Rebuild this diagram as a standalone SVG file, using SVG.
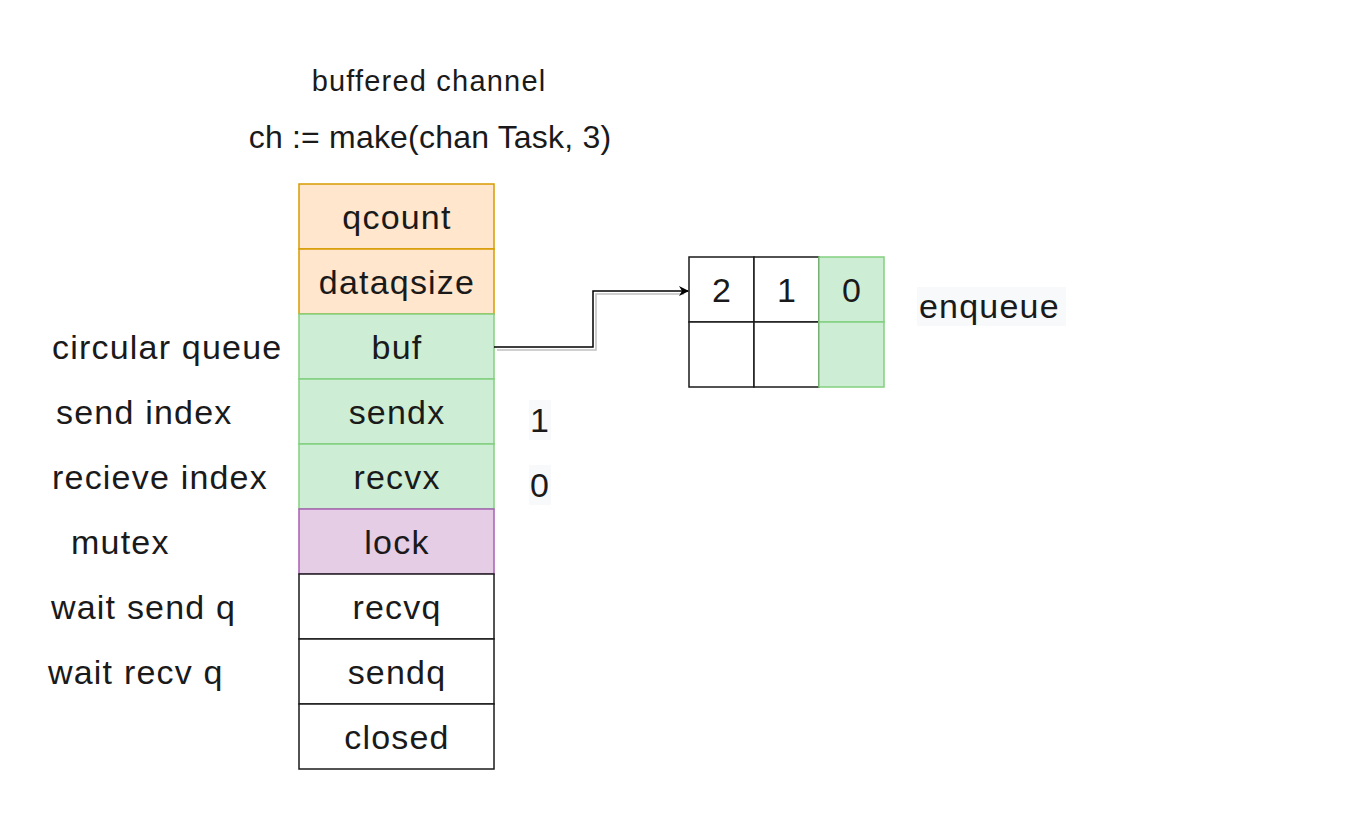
<svg xmlns="http://www.w3.org/2000/svg" width="1346" height="820" viewBox="0 0 1346 820">
<defs>
<style>
text{font-family:"Liberation Sans",Arial,sans-serif;fill:#1a1a1a;}
.cell{font-size:34px;letter-spacing:1.2px;text-anchor:middle;dominant-baseline:central;}
.side{font-size:34px;letter-spacing:1.2px;dominant-baseline:central;}
.t1{font-size:29px;letter-spacing:1.2px;text-anchor:middle;dominant-baseline:central;}
.t2{font-size:32px;letter-spacing:0.2px;text-anchor:middle;dominant-baseline:central;}
.or{fill:#ffe6cc;stroke:#d79b00;stroke-width:1.5;}
.gr{fill:#cdeed4;stroke:#82cf7f;stroke-width:1.5;}
.pu{fill:#e6cde6;stroke:#a65fb5;stroke-width:1.5;}
.wh{fill:#ffffff;stroke:#1a1a1a;stroke-width:1.5;}
.bg{fill:#f8f9fa;}
</style>
<marker id="arr" viewBox="0 0 10 10" refX="9" refY="5" markerWidth="10" markerHeight="10" markerUnits="userSpaceOnUse" orient="auto">
<path d="M0,0 L10,5 L0,10 L3,5 Z" fill="#000"/>
</marker>
</defs>
<rect width="1346" height="820" fill="#ffffff"/>

<g id="title">
<text class="t1" x="429" y="81">buffered channel</text>
<text class="t2" x="430" y="137">ch := make(chan Task, 3)</text>
</g>

<g id="node-qcount"><rect class="or" x="299" y="184" width="195" height="65"/><text class="cell" x="397" y="216.5">qcount</text></g>
<g id="node-dataqsize"><rect class="or" x="299" y="249" width="195" height="65"/><text class="cell" x="397" y="281.5">dataqsize</text></g>
<g id="node-buf"><rect class="gr" x="299" y="314" width="195" height="65"/><text class="cell" x="397" y="346.5">buf</text></g>
<g id="node-sendx"><rect class="gr" x="299" y="379" width="195" height="65"/><text class="cell" x="397" y="411.5">sendx</text></g>
<g id="node-recvx"><rect class="gr" x="299" y="444" width="195" height="65"/><text class="cell" x="397" y="476.5">recvx</text></g>
<g id="node-lock"><rect class="pu" x="299" y="509" width="195" height="65"/><text class="cell" x="397" y="541.5">lock</text></g>
<g id="node-recvq"><rect class="wh" x="299" y="574" width="195" height="65"/><text class="cell" x="397" y="606.5">recvq</text></g>
<g id="node-sendq"><rect class="wh" x="299" y="639" width="195" height="65"/><text class="cell" x="397" y="671.5">sendq</text></g>
<g id="node-closed"><rect class="wh" x="299" y="704" width="195" height="65"/><text class="cell" x="397" y="736.5">closed</text></g>

<g id="side-labels">
<text class="side" x="52" y="347">circular queue</text>
<text class="side" x="56" y="412">send index</text>
<text class="side" x="52" y="477">recieve index</text>
<text class="side" x="71" y="542">mutex</text>
<text class="side" x="51" y="607">wait send q</text>
<text class="side" x="48" y="672">wait recv q</text>
</g>

<g id="index-values">
<rect class="bg" x="529" y="400" width="22" height="40"/>
<text class="side" x="530" y="420">1</text>
<rect class="bg" x="529" y="465" width="22" height="40"/>
<text class="side" x="530" y="485">0</text>
</g>

<g id="node-queue">
<rect class="wh" x="689" y="257" width="65" height="65"/><text class="cell" x="722" y="289.5">2</text>
<rect class="wh" x="754" y="257" width="65" height="65"/><text class="cell" x="787" y="289.5">1</text>
<rect class="wh" x="689" y="322" width="65" height="65"/>
<rect class="wh" x="754" y="322" width="65" height="65"/>
<rect class="gr" x="819" y="257" width="65" height="65"/><text class="cell" x="852" y="289.5">0</text>
<rect class="gr" x="819" y="322" width="65" height="65"/>
</g>

<g id="node-enqueue">
<rect class="bg" x="917" y="287" width="149" height="39"/>
<text class="side" x="919" y="306">enqueue</text>
</g>

<g id="connectors">
<path d="M497,350 H596 V294 H684" fill="none" stroke="#c0c0c0" stroke-width="1.5"/>
<path d="M494,347 H593 V291 H688" fill="none" stroke="#000" stroke-width="1.5" marker-end="url(#arr)"/>
</g>
</svg>
